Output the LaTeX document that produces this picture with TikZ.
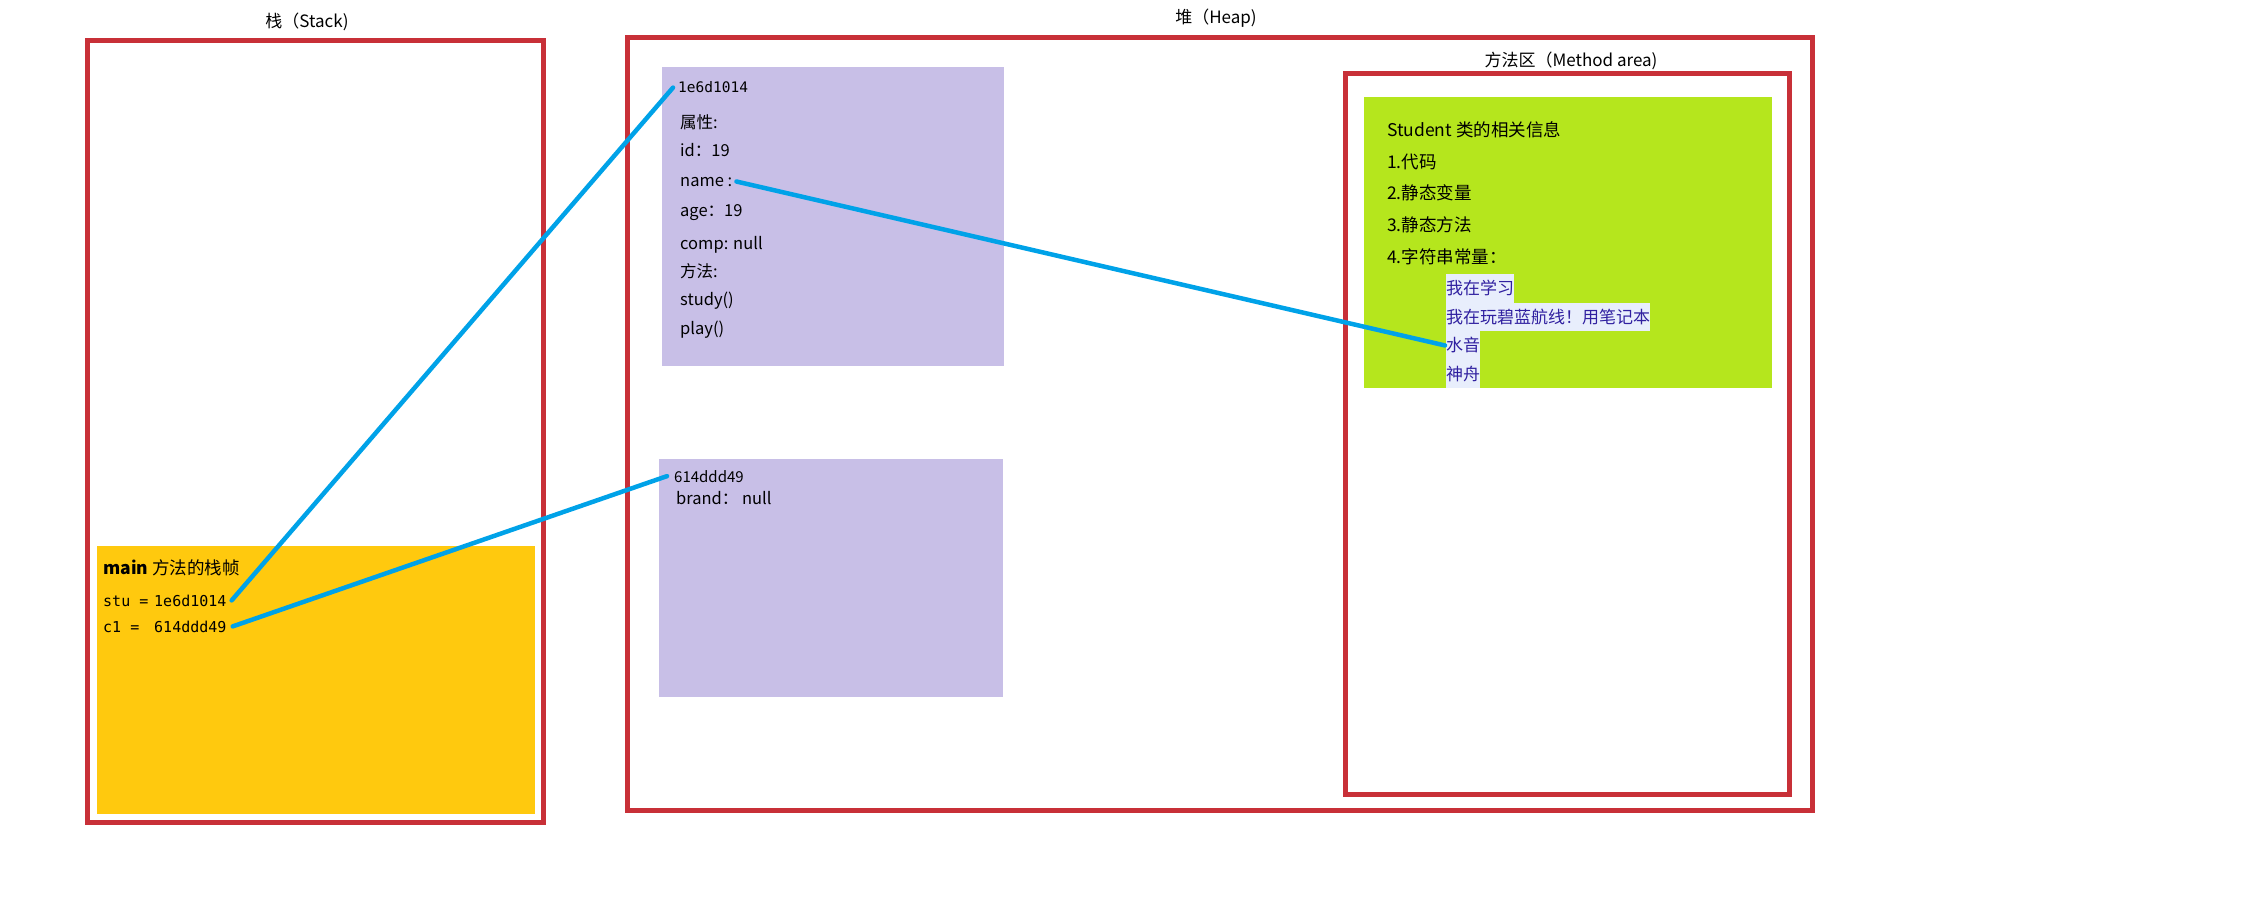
\documentclass[tikz,border=0pt]{standalone}
\usepackage{fontspec}
\setmainfont{Noto Sans CJK SC}
\newfontfamily\monofont{DejaVu Sans Mono}
\definecolor{boxred}{RGB}{200,48,56}
\definecolor{lav}{RGB}{200,191,231}
\definecolor{yel}{RGB}{255,201,14}
\definecolor{lime}{RGB}{181,230,29}
\definecolor{ptr}{RGB}{0,162,232}
\definecolor{itemfg}{RGB}{48,32,160}
\definecolor{itembg}{RGB}{232,238,252}
\begin{document}
\begin{tikzpicture}[x=1pt,y=-1pt,
  redbox/.style={draw=boxred,line width=5pt},
  title/.style={anchor=base,inner sep=0pt,font=\fontsize{17}{20}\selectfont},
  txt/.style={anchor=base west,inner sep=0pt,font=\fontsize{16.5}{19}\selectfont},
  gtxt/.style={anchor=base west,inner sep=0pt,font=\fontsize{17.5}{20}\selectfont},
  mono/.style={anchor=base west,inner sep=0pt,font=\monofont\fontsize{14.5}{17}\selectfont},
  item/.style={anchor=north west,inner xsep=0pt,inner ysep=0pt,minimum height=28.5pt,
    fill=itembg,text=itemfg,font=\fontsize{17}{20}\selectfont},
  ptrline/.style={draw=ptr,line width=4.5pt,line cap=round}]
\useasboundingbox (0,0) rectangle (2256,920);
% regions
\draw[redbox] (87,41) rectangle (543,822);
\draw[redbox] (627,38) rectangle (1812,810);
\draw[redbox] (1345,74) rectangle (1789,794);
\node[title] (stacktitle) at (307,28) {栈（Stack)};
\node[title] (heaptitle) at (1216,24) {堆（Heap)};
\node[title] (methtitle) at (1571,67) {方法区（Method area)};
% fills
\fill[yel] (97,546) rectangle (535,814);
\fill[lav] (662,67) rectangle (1004,366);
\fill[lav] (659,459) rectangle (1003,697);
\fill[lime] (1364,97) rectangle (1772,388);
% object 1
\node[mono] (addr1) at (678,93) {1e6d1014};
\node[txt] (attr) at (680,129) {属性:};
\node[txt] (idf) at (680,157) {id：19};
\node[txt] (namef) at (680,186) {name :};
\node[txt] (agef) at (680,216) {age：19};
\node[txt] (compf) at (680,249) {comp: null};
\node[txt] (methf) at (680,277) {方法:};
\node[txt] (studyf) at (680,305) {study()};
\node[txt] (playf) at (680,334) {play()};
% object 2
\node[txt,font=\fontsize{15}{18}\selectfont] (addr2) at (674,482) {614ddd49};
\node[txt] (brandf) at (676,504) {brand： null};
% method area
\node[gtxt] (g1) at (1387,137) {Student 类的相关信息};
\node[gtxt] (g2) at (1387,169) {1.代码};
\node[gtxt] (g3) at (1387,200) {2.静态变量};
\node[gtxt] (g4) at (1387,232) {3.静态方法};
\node[gtxt] (g5) at (1387,263) {4.字符串常量：};
\node[item] (s1) at (1446,274) {我在学习};
\node[item] (s2) at (1446,302.5) {我在玩碧蓝航线！用笔记本};
\node[item] (s3) at (1446,331) {水音};
\node[item] (s4) at (1446,359.5) {神舟};
% stack frame
\node[gtxt] (frame) at (103,574) {\textbf{main} 方法的栈帧};
\node[mono,font=\monofont\fontsize{15}{18}\selectfont] (stuk) at (103,606) {stu =};
\node[mono,font=\monofont\fontsize{15}{18}\selectfont] (stuval) at (154,606) {1e6d1014};
\node[mono,font=\monofont\fontsize{15}{18}\selectfont] (c1k) at (103,632) {c1 =};
\node[mono,font=\monofont\fontsize{15}{18}\selectfont] (c1val) at (154,632) {614ddd49};
% pointers
\draw[ptrline] ([xshift=5pt]stuval.east) -- ([xshift=-5pt]addr1.west);
\draw[ptrline] ([xshift=6pt]c1val.east) -- ([xshift=-7pt]addr2.west);
\draw[ptrline] ([xshift=4pt]namef.east) -- ([xshift=-1pt]s3.west);
\end{tikzpicture}
\end{document}
